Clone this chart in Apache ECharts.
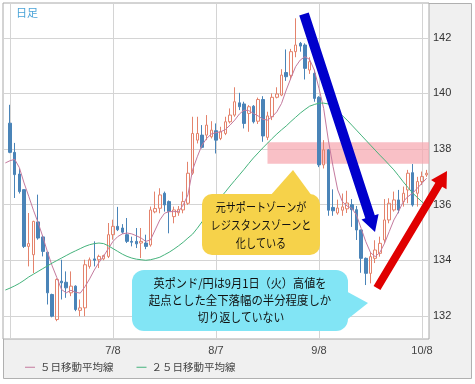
<!DOCTYPE html>
<html><head><meta charset="utf-8">
<script src="https://cdn.jsdelivr.net/npm/echarts@6/dist/echarts.min.js"></script>
<style>html,body{margin:0;padding:0;background:#fff}#c{width:475px;height:384px}</style>
</head><body><div id="c"></div>
<script>
const categories = ['6/5','6/8','6/9','6/10','6/11','6/12','6/15','6/16','6/17','6/18','6/19','6/22','6/23','6/24','6/25','6/26','6/29','6/30',
'7/1','7/2','7/3','7/6','7/7','7/8','7/9','7/10','7/13','7/14','7/15','7/16','7/17','7/20','7/21','7/22','7/23','7/24','7/27','7/28','7/29','7/30','7/31',
'8/3','8/4','8/5','8/6','8/7','8/10','8/11','8/12','8/13','8/14','8/17','8/18','8/19','8/20','8/21','8/24','8/25','8/26','8/27','8/28','8/31',
'9/1','9/2','9/3','9/4','9/7','9/8','9/9','9/10','9/11','9/14','9/15','9/16','9/17','9/18','9/21','9/22','9/23','9/24','9/25','9/28','9/29','9/30',
'10/1','10/2','10/5','10/6','10/7','10/8','10/9'];
// [open, close, low, high]
const ohlc = [
['-','-','-','-'],
[138.93,137.88,137.85,139.59],[137.88,137.08,136.24,138.22],[137.1,136.47,136.4,137.3],[136.54,134.5,134.44,136.56],[134.5,134.6,133.78,135.7],
[134.2,135.4,133.54,135.42],[135.38,134.8,134.74,136.36],[134.84,134.32,134.14,134.9],[134.29,132.83,132.41,134.3],[132.77,131.99,131.95,132.8],
[131.87,133.31,131.81,133.35],[133.25,133.19,132.59,134.02],[133.21,133.01,132.65,133.6],[132.83,133.07,132.71,133.6],[133.07,132.23,132.17,133.1],
[132.2,132.29,131.99,132.59],[132.29,133.84,131.99,134.02],[133.78,134.02,133.7,134.1],[134.05,134.0,133.78,134.68],[134.02,134.14,133.72,134.2],
[134.05,134.17,134.0,134.2],[134.14,134.92,134.08,135.34],[134.92,135.22,134.74,135.46],[135.22,135.1,135.05,135.92],[135.16,135.01,134.95,135.3],
[134.92,134.68,134.62,135.52],[134.68,134.65,134.5,134.85],[134.68,134.59,134.44,135.16],[134.62,134.68,134.08,135.16],[134.62,134.5,134.4,134.92],
[134.55,135.81,134.49,135.93],[135.74,135.86,135.69,136.47],[135.87,136.35,135.69,136.59],[136.41,135.99,135.75,136.47],[136.11,135.75,134.97,136.15],
[135.57,135.81,135.33,135.93],[135.71,135.83,135.6,135.95],[135.81,136.11,135.69,136.47],[136.05,137.13,135.99,137.54],[137.13,138.56,137.07,139.16],
[138.32,138.56,138.2,139.16],[138.5,138.06,138.02,138.86],[138.5,138.86,138.32,139.22],[138.44,138.68,138.38,139.0],[138.66,138.32,137.84,138.92],
[138.38,138.62,138.32,138.8],[138.56,138.98,138.5,139.16],[138.98,139.22,138.92,139.46],[139.22,139.7,139.16,140.22],[139.66,139.52,139.4,140.02],
[139.62,138.92,138.74,139.7],[139.28,139.52,138.62,139.58],[139.54,138.98,138.92,139.58],[139.0,139.78,138.9,139.85],[139.78,138.47,138.26,139.9],
[138.42,139.19,138.32,139.34],[139.16,139.86,139.04,140.0],[139.86,139.98,139.82,140.22],[139.94,140.66,139.9,140.87],[140.75,140.6,140.45,141.58],
[140.65,141.5,140.5,141.6],[141.5,141.74,141.3,142.7],[141.8,141.7,141.5,141.85],[141.74,140.9,140.5,141.8],[140.84,141.14,140.7,141.3],
[140.72,139.82,139.7,140.85],[139.86,137.43,137.35,139.9],[137.43,137.97,137.3,138.32],[137.97,135.8,135.6,138.0],[135.9,135.78,135.6,136.55],
[135.7,135.88,135.64,136.18],[135.8,135.92,135.6,136.4],[135.85,136.06,135.7,136.5],[136.0,135.82,135.2,136.2],[135.82,135.09,134.73,135.95],
[135.09,134.07,133.55,135.1],[134.07,133.53,133.11,134.1],[133.53,134.13,133.17,134.3],[134.07,134.37,133.9,134.72],[134.25,134.61,134.13,134.85],
[134.73,135.45,134.6,136.2],[135.45,136.05,135.33,136.23],[135.81,136.17,135.75,136.47],[136.17,135.81,135.69,136.53],[136.11,136.41,135.93,136.65],
[136.53,137.13,136.05,137.25],[137.15,135.99,135.93,137.46],[136.41,136.83,135.93,137.0],[136.83,137.01,136.71,137.19],[137.07,137.13,137.0,137.25]
];
const ma5 = [137.5,137.58,137.63,137.33,136.78,136.3,135.8,135.35,134.85,134.3,133.8,133.38,132.95,132.83,132.92,132.85,132.82,133.05,133.33,133.65,
133.92,134.15,134.42,134.68,134.85,134.95,134.98,134.95,134.88,134.8,134.68,134.73,135.09,135.45,135.69,135.75,135.75,135.75,135.99,136.35,
137.25,137.72,138.14,138.38,138.54,138.59,138.62,138.7,138.86,139.04,139.26,139.4,139.38,139.28,139.19,139.07,139.04,139.16,139.34,139.64,
140.12,140.55,140.96,141.2,141.32,141.22,140.84,140.18,139.46,138.32,137.37,136.53,136.11,135.95,135.87,135.63,135.15,134.67,134.28,134.13,
134.28,134.61,135.03,135.45,135.75,136.11,136.29,136.41,136.59,136.77,136.95];
const ma25 = [132.93,133.0,133.08,133.17,133.28,133.4,133.5,133.6,133.7,133.8,133.9,133.99,134.08,134.17,134.26,134.34,134.42,134.5,134.56,134.6,
134.62,134.6,134.52,134.42,134.32,134.22,134.14,134.08,134.04,134.02,134.0,134.02,134.06,134.11,134.2,134.29,134.4,134.52,134.65,134.8,
134.94,135.15,135.38,135.6,135.85,136.06,136.26,136.46,136.67,136.87,137.07,137.27,137.48,137.68,137.86,138.04,138.21,138.38,138.54,138.69,
138.83,138.99,139.14,139.29,139.42,139.54,139.6,139.65,139.65,139.62,139.5,139.37,139.2,139.04,138.86,138.68,138.5,138.32,138.14,137.96,
137.78,137.61,137.43,137.25,137.04,136.82,136.62,136.42,136.26,136.1,135.95];
const yTicks = [132,134,136,138,140,142];
const xLabelDates = ['7/8','8/7','9/8','10/8'];
const xGridDates = ['6/8','7/8','8/7','9/8','10/8'];
const zoneStart = '8/24';
const zoneLow = 137.47, zoneHigh = 138.24;
const seriesNames = ['５日移動平均線','２５日移動平均線'];

const UP = '#e4836c', DOWN = '#4a84b8', C5 = '#c47a9e', C25 = '#45b37c';
const JP = '"Noto Sans CJK JP", sans-serif';

function arrowPoly(x1,y1,x2,y2,w,hl,hw){
  const dx=x2-x1, dy=y2-y1, L=Math.hypot(dx,dy), ux=dx/L, uy=dy/L, nx=-uy, ny=ux;
  const bx=x2-hl*ux, by=y2-hl*uy;
  return [[x1+nx*w/2,y1+ny*w/2],[bx+nx*w/2,by+ny*w/2],[bx+nx*hw,by+ny*hw],[x2,y2],[bx-nx*hw,by-ny*hw],[bx-nx*w/2,by-ny*w/2],[x1-nx*w/2,y1-ny*w/2]];
}
function txt(x,y,s,size,sx){
  return {type:'text', x:x, y:y, scaleX:sx, z:110, style:{text:s, x:0, y:0, fill:'#111', font:size+'px '+JP, textAlign:'center', textVerticalAlign:'middle'}};
}

const chart = echarts.init(document.getElementById('c'), null, {renderer:'canvas'});
chart.setOption({
  backgroundColor:'#fff',
  animation:false,
  grid:{left:3, top:3, width:426, height:336, show:true, backgroundColor:'#fff', borderColor:'#a8a8a8', borderWidth:1},
  legend:{left:25, top:362, padding:0, itemWidth:10, itemHeight:1, icon:'rect', itemGap:23,
    data:seriesNames, textStyle:{fontSize:10.5, color:'#444', fontFamily:JP}},
  xAxis:{type:'category', data:categories, boundaryGap:true,
    axisLine:{show:false}, axisTick:{show:false},
    axisLabel:{interval:(i,v)=>xLabelDates.includes(v), color:'#444', fontSize:11, margin:6, fontFamily:'"Liberation Sans", Arial, sans-serif'},
    splitLine:{show:true, alignWithLabel:true, interval:(i,v)=>xGridDates.includes(v), lineStyle:{color:'#d4d4d4', width:1}}},
  yAxis:{type:'value', position:'right', min:131.17, max:143.25, scale:true,
    axisLine:{show:false}, axisTick:{show:false, customValues:yTicks},
    axisLabel:{customValues:yTicks, color:'#333', fontSize:11, margin:4, fontFamily:'"Liberation Sans", Arial, sans-serif'},
    splitLine:{show:true, lineStyle:{color:'#d4d4d4', width:1}}},
  series:[
    {type:'candlestick', name:'GBPJPY', data:ohlc, barWidth:3, z:3,
      itemStyle:{color:'rgba(255,255,255,0)', color0:DOWN, borderColor:UP, borderColor0:DOWN, borderWidth:1},
      markArea:{silent:true, itemStyle:{color:'rgba(247,168,176,0.72)'}, data:[[{xAxis:zoneStart, yAxis:zoneLow},{yAxis:zoneHigh}]]}},
    {type:'line', name:seriesNames[0], data:ma5, symbol:'none', z:4, lineStyle:{color:C5, width:1}, itemStyle:{color:C5}},
    {type:'line', name:seriesNames[1], data:ma25, symbol:'none', z:4, lineStyle:{color:C25, width:1}, itemStyle:{color:C25}}
  ],
  graphic:[
    {type:'rect', z:-10, shape:{x:3.5, y:3.5, width:468, height:375}, style:{fill:'#f0f0f0', stroke:'#b0b0b0', lineWidth:1}},
    {type:'text', x:16, y:13, z:50, style:{text:'日足', fill:'#4aa3d8', font:'11px '+JP, textVerticalAlign:'middle'}},
    {type:'polygon', z:100, shape:{points:arrowPoly(304,14,375,232,10,16,9)}, style:{fill:'#0000cc'}},
    {type:'polygon', z:100, shape:{points:arrowPoly(377,288,447,171,8,16,9)}, style:{fill:'#e00000'}},
    {type:'polygon', z:100, shape:{points:[[270,196],[293,170],[312,196]]}, style:{fill:'#f6d24a'}},
    {type:'rect', z:100, shape:{x:202, y:194, width:118, height:61, r:10}, style:{fill:'#f6d24a'}},
    txt(261,207,'元サポートゾーンが',12,0.84),
    txt(261,225,'レジスタンスゾーンと',12,0.84),
    txt(261,243,'化している',12,0.84),
    {type:'polygon', z:100, shape:{points:[[344,290],[368,303],[344,322]]}, style:{fill:'#82e5f5'}},
    {type:'rect', z:100, shape:{x:132, y:270, width:216, height:61, r:12}, style:{fill:'#82e5f5'}},
    txt(240,283,'英ポンド/円は9月1日（火）高値を',12,0.93),
    txt(240,300,'起点とした全下落幅の半分程度しか',12,0.95),
    txt(241,317,'切り返していない',12,0.9)
  ]
});
</script></body></html>
